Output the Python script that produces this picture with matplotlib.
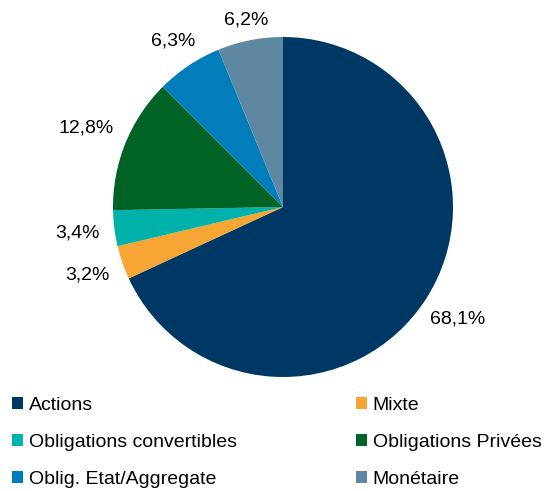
import numpy as np
import matplotlib.pyplot as plt
from matplotlib.patches import Patch

plt.rcParams['font.family'] = ['Liberation Sans', 'DejaVu Sans']

categories = ["Actions", "Mixte", "Obligations convertibles",
              "Obligations Privées", "Oblig. Etat/Aggregate", "Monétaire"]
values = [68.1, 3.2, 3.4, 12.8, 6.3, 6.2]
colors = ["#003865", "#F7A533", "#00B2A9", "#006325", "#007DBA", "#5E88A2"]
label_dist = [1.22, 1.22, 1.22, 1.25, 1.17, 1.12]

fig = plt.figure(figsize=(5.51, 4.91), dpi=100)
ax = fig.add_axes([(283 - 170) / 551, (491 - 207 - 170) / 491, 340 / 551, 340 / 491])

wedges, _ = ax.pie(values, colors=colors, startangle=90, counterclock=False,
                   wedgeprops=dict(linewidth=0))
ax.set_aspect('equal')
ax.set_xlim(-1, 1)
ax.set_ylim(-1, 1)

for w, v, d in zip(wedges, values, label_dist):
    ang = np.deg2rad((w.theta1 + w.theta2) / 2)
    ax.text(d * np.cos(ang), d * np.sin(ang), f"{v:.1f}%".replace(".", ","),
            ha="center", va="center", fontsize=14, clip_on=False)

order = [0, 2, 4, 1, 3, 5]
handles = [Patch(facecolor=colors[i], edgecolor="none") for i in order]
labels = [categories[i] for i in order]
fig.legend(handles, labels, ncol=2, loc="upper left", frameon=False,
           bbox_to_anchor=(12 / 551, (491 - 397) / 491), borderpad=0,
           fontsize=14, handlelength=0.55, handleheight=0.55,
           handletextpad=0.3, labelspacing=1.03, columnspacing=6.15,
           borderaxespad=0)

fig.savefig("out.png", dpi=100)
